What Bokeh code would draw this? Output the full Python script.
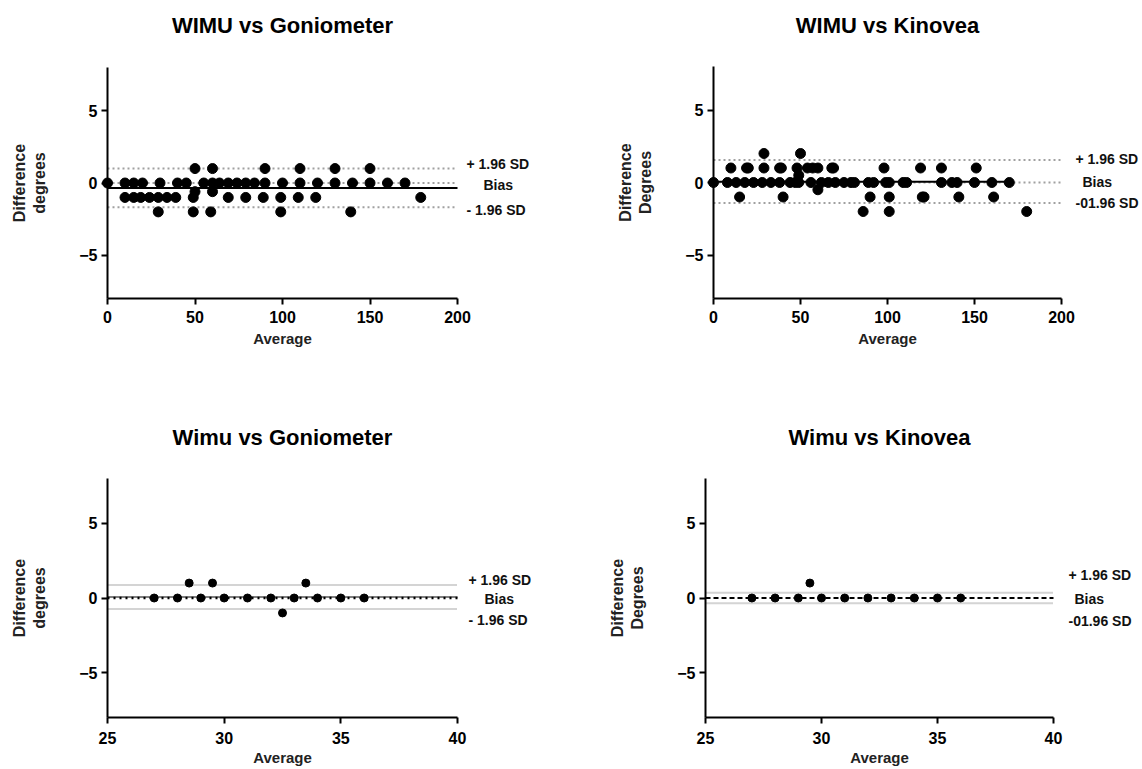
import math
from bokeh.plotting import figure
from bokeh.layouts import column, row
from bokeh.models import Label, Range1d, FixedTicker
from bokeh.embed import file_html
from bokeh.resources import INLINE

FONT = "Liberation Sans"

# ---------------- data ----------------
# Panel A: WIMU vs Goniometer (0-200)
gon_avg = [0, 10, 15, 20, 30, 40, 45, 55, 60, 64, 69, 74, 79, 84, 90, 100, 110, 120, 130, 140, 150, 160, 170,
           50, 60, 90, 110, 130, 150,
           10, 15, 19, 24, 29, 34, 39, 49, 69, 79, 89, 99, 109, 119, 179,
           29, 49, 59, 99, 139,
           50, 60]
gon_diff = [0, 0, 0, 0, 0, 0, 0, 0, 0, 0, 0, 0, 0, 0, 0, 0, 0, 0, 0, 0, 0, 0, 0,
            1, 1, 1, 1, 1, 1,
            -1, -1, -1, -1, -1, -1, -1, -1, -1, -1, -1, -1, -1, -1, -1,
            -2, -2, -2, -2, -2,
            -0.6, -0.6]
gon_lines = {"upper": 1.0, "bias": -0.34, "lower": -1.68}

# Panel B: WIMU vs Kinovea (0-200)
kin_avg = [29, 50,
           10, 19, 20, 29, 38, 39, 48, 54, 57, 60, 68, 69, 98, 119, 131, 151,
           49,
           0, 8, 13, 18, 23, 28, 33, 38, 44, 47, 49, 56, 62, 66, 70, 75, 79, 81, 89, 92, 99, 101, 109, 111,
           131, 137, 140, 150, 160, 170,
           60,
           15, 40, 90, 101, 120, 121, 141, 161,
           86, 101, 180]
kin_diff = [2, 2,
            1, 1, 1, 1, 1, 1, 1, 1, 1, 1, 1, 1, 1, 1, 1, 1,
            0.5,
            0, 0, 0, 0, 0, 0, 0, 0, 0, 0, 0, 0, 0, 0, 0, 0, 0, 0, 0, 0, 0, 0, 0, 0,
            0, 0, 0, 0, 0, 0,
            -0.5,
            -1, -1, -1, -1, -1, -1, -1, -1,
            -2, -2, -2]
kin_lines = {"upper": 1.55, "bias": 0.06, "lower": -1.41}
kin_bias_x = [0, 171]

# Panel C: Wimu vs Goniometer (25-40)
gon2_avg = [27, 28, 29, 30, 31, 32, 33, 34, 35, 36, 28.5, 29.5, 33.5, 32.5]
gon2_diff = [0, 0, 0, 0, 0, 0, 0, 0, 0, 0, 1, 1, 1, -1]
gon2_lines = {"upper": 0.87, "bias": 0.07, "lower": -0.73}

# Panel D: Wimu vs Kinovea (25-40)
kin2_avg = [27, 28, 29, 30, 31, 32, 33, 34, 35, 36, 29.5]
kin2_diff = [0, 0, 0, 0, 0, 0, 0, 0, 0, 0, 1]
kin2_lines = {"upper": 0.35, "bias": 0.0, "lower": -0.35}

x_extent_wide = [0, 200]
x_extent_narrow = [25, 40]
y_extent = [-8, 8]
x_ticks_wide = [0, 50, 100, 150, 200]
x_ticks_narrow = [25, 30, 35, 40]
y_ticks = [-5, 0, 5]

GRAY = "#a0a0a0"


class Panel:
    """A figure whose frame fills the whole canvas; the axes sit at fixed data positions."""

    def __init__(self, title, ylabel, width, height, extent, xticks, ax_left, ax_top, ax_w, ax_h,
                 title_gap, tick_gap, avg_gap):
        self.extent = extent
        self.ppx = ax_w / (extent[1] - extent[0])
        self.ppy = ax_h / (y_extent[1] - y_extent[0])
        x0 = extent[0] - ax_left / self.ppx
        x1 = extent[1] + (width - ax_left - ax_w) / self.ppx
        y1 = y_extent[1] + ax_top / self.ppy
        y0 = y_extent[0] - (height - ax_top - ax_h) / self.ppy
        p = figure(width=width, height=height, x_range=Range1d(x0, x1), y_range=Range1d(y0, y1),
                   min_border=0, output_backend="svg", toolbar_location=None)
        p.outline_line_color = None
        p.xgrid.visible = False
        p.ygrid.visible = False
        p.background_fill_color = "white"
        p.border_fill_color = "white"
        p.xaxis.ticker = FixedTicker(ticks=xticks)
        p.yaxis.ticker = FixedTicker(ticks=y_ticks)
        p.xaxis.fixed_location = y_extent[0]
        p.yaxis.fixed_location = extent[0]
        p.xaxis.bounds = (extent[0], extent[1])
        p.yaxis.bounds = (y_extent[0], y_extent[1])
        for ax in (p.xaxis[0], p.yaxis[0]):
            ax.axis_line_width = 2
            ax.axis_line_color = "black"
            ax.major_tick_line_width = 2
            ax.major_tick_line_color = "black"
            ax.major_tick_out = 6
            ax.major_tick_in = 0
            ax.minor_tick_line_color = None
            ax.major_label_text_font = FONT
            ax.major_label_text_font_size = "16px"
            ax.major_label_text_font_style = "bold"
            ax.major_label_text_color = "black"
        p.xaxis.major_label_standoff = tick_gap
        p.yaxis.major_label_standoff = 4
        self.p = p
        xm = (extent[0] + extent[1]) / 2
        p.add_layout(Label(x=xm, y=y_extent[1] + title_gap / self.ppy, text=title, text_font=FONT,
                           text_font_size="22px", text_font_style="bold", text_color="black",
                           text_align="center", text_baseline="middle"))
        p.add_layout(Label(x=xm, y=y_extent[0] - avg_gap / self.ppy, text="Average", text_font=FONT,
                           text_font_size="15px", text_font_style="bold", text_color="#222222",
                           text_align="center", text_baseline="middle"))
        p.add_layout(Label(x=extent[0] - 78 / self.ppx, y=0, text=ylabel, text_font=FONT,
                           text_font_size="16px", text_font_style="bold", text_color="#222222",
                           text_align="center", text_baseline="middle", angle=math.pi / 2))

    def hline(self, yv, xs=None, **kw):
        xs = self.extent if xs is None else xs
        self.p.line(xs, [yv, yv], **kw)

    def sd_labels(self, texts, ys, offs):
        for t, yv, o in zip(texts, ys, offs):
            self.p.add_layout(Label(x=self.extent[1] + o / self.ppx, y=yv, text=t, text_font=FONT,
                                    text_font_size="14px", text_font_style="bold", text_color="#111111",
                                    text_baseline="middle"))


# Panel A
a = Panel("WIMU vs Goniometer", "Difference\ndegrees", 614, 419, x_extent_wide, x_ticks_wide,
          107, 67, 350, 231, 42, 6, 40)
a.hline(gon_lines["upper"], line_color=GRAY, line_dash="2 3", line_width=2)
a.hline(gon_lines["lower"], line_color=GRAY, line_dash="2 3", line_width=2)
a.hline(0, line_color=GRAY, line_dash="2 3", line_width=2)
a.hline(gon_lines["bias"], line_color="black", line_width=2)
a.p.scatter(gon_avg, gon_diff, size=10, color="black")
a.sd_labels(["+ 1.96 SD", "Bias", "- 1.96 SD"], [1.35, -0.15, -1.87], [9, 26, 9])

# Panel B
b = Panel("WIMU vs Kinovea", "Difference\nDegrees", 528, 419, x_extent_wide, x_ticks_wide,
          99, 66, 348, 232, 41, 6, 40)
b.hline(kin_lines["upper"], line_color=GRAY, line_dash="2 3", line_width=2)
b.hline(kin_lines["lower"], line_color=GRAY, line_dash="2 3", line_width=2)
b.hline(0, line_color=GRAY, line_dash="2 3", line_width=2)
b.hline(kin_lines["bias"], xs=kin_bias_x, line_color="black", line_width=2)
b.p.scatter(kin_avg, kin_diff, size=10, color="black")
b.sd_labels(["+ 1.96 SD", "Bias", "-01.96 SD"], [1.6, 0.05, -1.4], [14, 21, 14])

# Panel C
c = Panel("Wimu vs Goniometer", "Difference\ndegrees", 606, 349, x_extent_narrow, x_ticks_narrow,
          107, 59, 350, 239, 41, 8, 40)
c.hline(gon2_lines["upper"], line_color="#a8a8a8", line_dash="1 1", line_width=2)
c.hline(gon2_lines["lower"], line_color="#a8a8a8", line_dash="1 1", line_width=2)
c.hline(gon2_lines["bias"], line_color="#555555", line_width=1.5)
c.hline(0, line_color="black", line_dash="2 4", line_width=2.5)
c.p.scatter(gon2_avg, gon2_diff, size=8, color="black")
c.sd_labels(["+ 1.96 SD", "Bias", "- 1.96 SD"], [1.22, -0.1, -1.45], [11, 27, 11])

# Panel D
d = Panel("Wimu vs Kinovea", "Difference\nDegrees", 536, 349, x_extent_narrow, x_ticks_narrow,
          99, 59, 348, 239, 41, 8, 40)
d.hline(kin2_lines["upper"], line_color="#a8a8a8", line_dash="1 1", line_width=2)
d.hline(kin2_lines["lower"], line_color="#a8a8a8", line_dash="1 1", line_width=2)
d.hline(kin2_lines["bias"], line_color="black", line_dash="5 3", line_width=2)
d.p.scatter(kin2_avg, kin2_diff, size=8, color="black")
d.sd_labels(["+ 1.96 SD", "Bias", "-01.96 SD"], [1.55, -0.1, -1.55], [15, 21, 15])

layout = column(row(a.p, b.p), row(c.p, d.p))
open("out.html", "w").write(file_html(layout, INLINE))
